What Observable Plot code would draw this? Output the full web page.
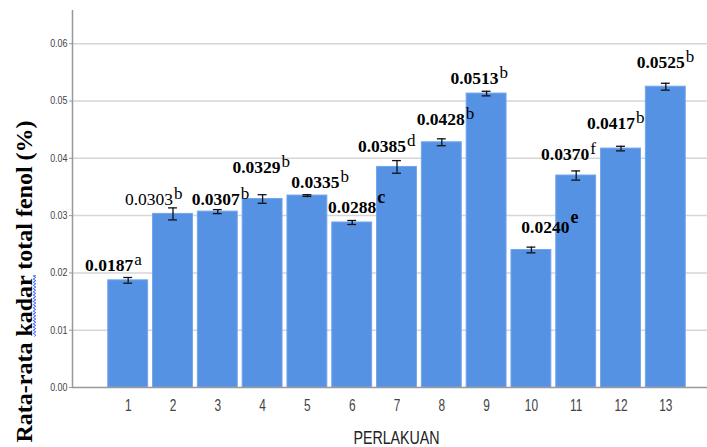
<!DOCTYPE html>
<html><head><meta charset="utf-8">
<script src="https://cdn.jsdelivr.net/npm/d3@7"></script>
<script src="https://cdn.jsdelivr.net/npm/@observablehq/plot@0.6"></script>
<style>
body{margin:0;background:#fff}
svg{display:block}
</style>
</head><body><div id="chart"></div>
<script>
// ---- data ----
const categories = ["1","2","3","4","5","6","7","8","9","10","11","12","13"];
const means  = [0.0187,0.0303,0.0307,0.0329,0.0335,0.0288,0.0385,0.0428,0.0513,0.0240,0.0370,0.0417,0.0525];
const errors = [0.0005,0.00105,0.00035,0.00075,0.00015,0.00035,0.0011,0.0006,0.0004,0.0005,0.0008,0.0004,0.0006];
const valueLabels = ["0.0187","0.0303","0.0307","0.0329","0.0335","0.0288","0.0385","0.0428","0.0513","0.0240","0.0370","0.0417","0.0525"];
const letters = ["a","b","b","b","b","c","d","b","b","e","f","b","b"];
const yTicks = [0,0.01,0.02,0.03,0.04,0.05,0.06];

// ---- label layout (manual placement as in the reference) ----
const labelDx = [5,0,22,18,32,24,9,23,12,38,13,14,19];
const labelY  = [0.02042,0.03194,0.03194,0.0374,0.03479,0.03042,0.04107,0.04573,0.05301,0.02693,0.03974,0.04516,0.0558];
const valueBold  = [true,false,true,true,true,true,true,true,true,true,true,true,true];
const letterBold = [false,false,false,false,false,true,false,false,false,true,false,false,false];

const rows = categories.map((c,i)=>({
  cat:c, mean:means[i], lo:means[i]-errors[i], hi:means[i]+errors[i],
  label:valueLabels[i], letter:letters[i], dx:labelDx[i], ly:labelY[i],
  vb:valueBold[i], lb:letterBold[i]
}));

const sans = "'Liberation Sans',Arial,sans-serif";
const serif = "'Liberation Serif','Times New Roman',serif";
const yTitle = "Rata-rata kadar total fenol (%)";

const labelMarks = rows.flatMap(d => [
  Plot.text([d], {x:"cat", y:"ly", text:"label", dx:d.dx, textAnchor:"end", lineAnchor:"bottom",
    fontSize:17.5, fontWeight: d.vb ? "bold" : "normal", fontFamily: serif, fill:"#000"}),
  Plot.text([d], {x:"cat", y:"ly", text:"letter", dx:d.dx+1, dy: d.lb ? -10 : -6, textAnchor:"start", lineAnchor:"bottom",
    fontSize: d.lb ? 18 : 17, fontWeight: d.lb ? "bold" : "normal", fontFamily: serif, fill:"#000"})
]);

const chart = Plot.plot({
  width: 707, height: 447,
  marginLeft: 72, marginRight: 0, marginTop: 10, marginBottom: 60,
  style: {background:"#fff"},
  x: {type:"band", domain: categories, range:[105.3, 687.7], paddingInner:0.11, paddingOuter:0.055, round:false},
  y: {domain:[0, 0.0658]},
  marks: [
    Plot.ruleY(yTicks.slice(1), {stroke:"#d6d6d6", strokeWidth:1.5}),
    Plot.barY(rows, {x:"cat", y:"mean", fill:"#5592e3", stroke:"#72a5ec", strokeWidth:1}),
    Plot.ruleX(rows, {x:"cat", y1:"lo", y2:"hi", stroke:"#111", strokeWidth:1.3}),
    Plot.tickY(rows, {x:"cat", y:"lo", stroke:"#111", strokeWidth:1.3, insetLeft:15.5, insetRight:15.5}),
    Plot.tickY(rows, {x:"cat", y:"hi", stroke:"#111", strokeWidth:1.3, insetLeft:15.5, insetRight:15.5}),
    // axis lines
    Plot.ruleY([0], {stroke:"#999", strokeWidth:1.5}),
    Plot.ruleX([categories[0]], {x:d=>d, y1:0, y2:0.0658, dx:-55.7, stroke:"#999", strokeWidth:1.5}),
    Plot.axisY({ticks: yTicks, tickFormat: d3.format(".2f"), tickSize:3, tickPadding:2, fontSize:10.5,
      fontFamily: sans, stroke:"#999", fill:"#444", label:null}),
    Plot.axisX({tickSize:0, tickPadding:11, fontSize:17, fontFamily: sans, fill:"#444", label:null}),
    ...labelMarks,
    // axis titles
    Plot.text([yTitle], {frameAnchor:"left", dx:-41, dy:82.5, rotate:-90,
      textAnchor:"middle", lineAnchor:"bottom", fontSize:24, fontWeight:"bold", fontFamily: serif, fill:"#000"}),
    Plot.text(["PERLAKUAN"], {frameAnchor:"bottom", dx:6.5, dy:56, textAnchor:"middle", lineAnchor:"bottom",
      fontSize:18.5, fontFamily: sans, fill:"#222"})
  ]
});
document.getElementById("chart").appendChild(chart);

// horizontally condensed sans texts, like the reference's narrow font
function condense(sel, k) {
  sel.each(function(){
    const t = d3.select(this);
    const tr = t.attr("transform") || "";
    t.attr("transform", (tr + ` scale(${k},1)`).trim());
    const x = +t.attr("x") || 0;
    if (x) t.attr("x", x / k);
  });
}
const svg = d3.select(chart);
svg.selectAll("text").each(function(){
  const t = d3.select(this);
  const s = t.text();
  if (/^\d+$/.test(s)) condense(t, 0.7);              // x tick labels
  else if (/^0\.0\d$/.test(s) || s === "0.00") condense(t, 0.85); // y tick labels
  else if (s === "PERLAKUAN") condense(t, 0.77);
});

// spell-check style blue wavy underline under "kadar" (as in reference)
svg.selectAll("text").each(function(){
  if (this.textContent !== yTitle) return;
  const i0 = yTitle.indexOf("kadar"), i1 = i0 + 4;
  const p0 = this.getStartPositionOfChar(i0), p1 = this.getEndPositionOfChar(i1);
  const yb = p0.y + 3, amp = 1.3, per = 3.2;
  let d = `M${p0.x},${yb}`;
  for (let x = p0.x, k = 0; x < p1.x; x += per / 2, k++) {
    d += ` L${Math.min(x + per / 2, p1.x)},${yb + (k % 2 ? -amp : amp)}`;
  }
  const parent = this.parentNode;
  d3.select(parent).append("path")
    .attr("d", d)
    .attr("transform", this.getAttribute("transform"))
    .attr("fill", "none").attr("stroke", "#3f5cff").attr("stroke-width", 1);
});
</script>
</body></html>
